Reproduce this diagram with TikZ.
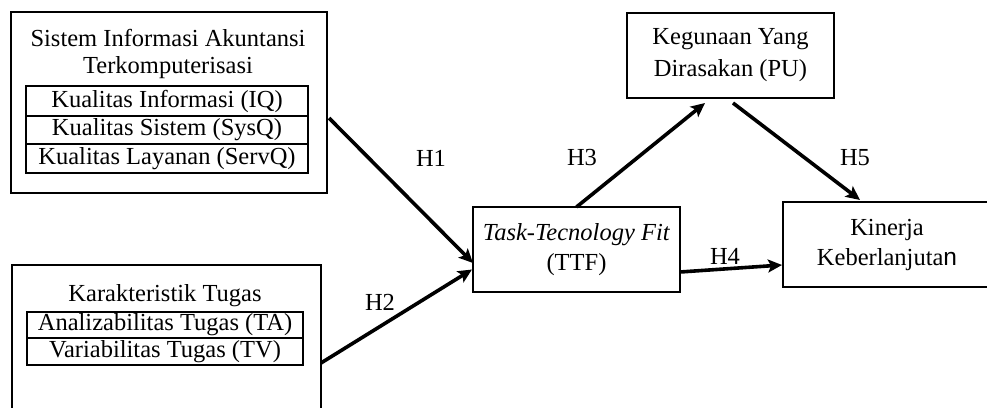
\documentclass[tikz,border=0pt]{standalone}
\usepackage{fontspec}
\setmainfont{Liberation Serif}
\newfontfamily\sansn{Liberation Sans}
\usetikzlibrary{arrows.meta}
\begin{document}
\begin{tikzpicture}[x=1pt,y=-1pt,
  every node/.style={font=\fontsize{24.5}{30}\selectfont, inner sep=0pt, outer sep=0pt},
  box/.style={draw=black, line width=1.3pt, fill=white},
  cell/.style={draw=black, line width=1.1pt, align=center},
  txt/.style={align=center},
  arr/.style={line width=3.6pt, -{Stealth[length=14pt,width=13pt,inset=3pt]}},
  hlab/.style={}]
\clip (0,0) rectangle (987,407);
\fill[white] (0,0) rectangle (987,407);
% boxes
\node[box, minimum width=316pt, minimum height=181pt] (sia) at (169,102.5) {};
\node[txt] (siat1) at (168,38) {Sistem Informasi Akuntansi};
\node[txt] (siat2) at (168,68) {Terkomputerisasi};
\node[cell, minimum width=282pt, minimum height=30pt] (iq) at (167,101) {Kualitas Informasi (IQ)};
\node[cell, minimum width=282pt, minimum height=28pt] (sysq) at (167,130) {Kualitas Sistem (SysQ)};
\node[cell, minimum width=282pt, minimum height=29pt] (servq) at (167,158.5) {Kualitas Layanan (ServQ)};

\node[box, minimum width=309pt, minimum height=165pt] (kt) at (166.5,347.5) {};
\node[txt] (ktt) at (165,296) {Karakteristik Tugas};
\node[cell, minimum width=276pt, minimum height=26pt] (ta) at (165,325) {Analizabilitas Tugas (TA)};
\node[cell, minimum width=276pt, minimum height=27pt] (tv) at (165,351.5) {Variabilitas Tugas (TV)};

\node[box, minimum width=207pt, minimum height=85pt, txt, font=\fontsize{24.5}{32}\selectfont] (pu) at (730.5,55.5) {Kegunaan Yang\\Dirasakan (PU)};
\node[box, minimum width=207pt, minimum height=85pt, txt] (ttf) at (576.5,249.5) {\textit{Task-Tecnology Fit}\\(TTF)};
\node[box, minimum width=208pt, minimum height=85pt, txt] (kin) at (887,244.5) {Kinerja\\Keberlanjuta{\sansn n}};

% arrows
\draw[arr] ([shift={(2,15.5)}]sia.east) -- ([shift={(0,13.5)}]ttf.west);
\draw[arr] ([shift={(0,15.5)}]kt.east) -- ([shift={(-1,20)}]ttf.west);
\draw[arr] (ttf.north) -- ([shift={(-25.5,5)}]pu.south);
\draw[arr] ([shift={(0,22.5)}]ttf.east) -- ([shift={(-1,20.5)}]kin.west);
\draw[arr] ([shift={(2.5,5)}]pu.south) -- ([shift={(-27,-2)}]kin.north);

% labels
\node[hlab] (h1) at (431,158) {H1};
\node[hlab] (h2) at (380,302) {H2};
\node[hlab] (h3) at (582,158) {H3};
\node[hlab] (h4) at (725,256) {H4};
\node[hlab] (h5) at (855,158) {H5};
\end{tikzpicture}
\end{document}
